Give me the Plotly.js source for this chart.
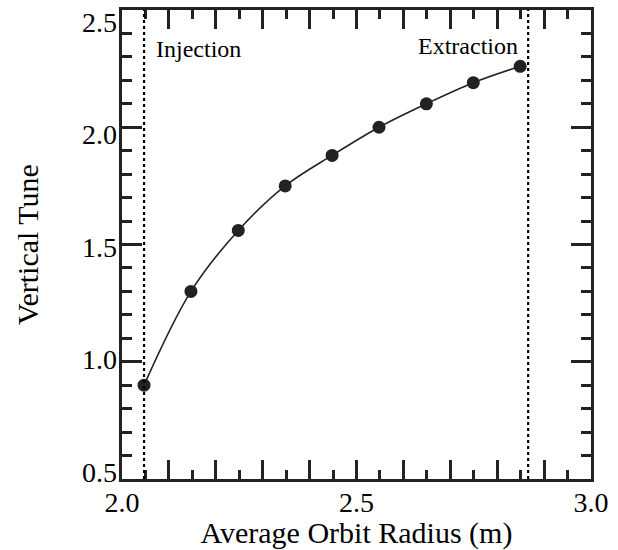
<!DOCTYPE html>
<html>
<head>
<meta charset="utf-8">
<script src="https://cdn.plot.ly/plotly-3.0.1.min.js"></script>
<style>html,body{margin:0;padding:0;background:#fff;}#chart{width:618px;height:550px;}</style>
</head>
<body>
<div id="chart"></div>
<script>
// Data
const radius = [2.047, 2.147, 2.248, 2.348, 2.448, 2.548, 2.649, 2.749, 2.849];
const verticalTune = [0.90, 1.30, 1.56, 1.75, 1.88, 2.00, 2.10, 2.19, 2.26];
const markerLabels = ['Injection', 'Extraction'];
const markerRadius = [2.047, 2.866];
const xTickVals = [2.0, 2.1, 2.2, 2.3, 2.4, 2.5, 2.6, 2.7, 2.8, 2.9, 3.0];
const xTickText = ['2.0', '', '', '', '', '2.5', '', '', '', '', '3.0'];
const yTickVals = [0.5, 1.0, 1.5, 2.0, 2.5];
const yTickText = ['0.5', '1.0', '1.5', '2.0', '2.5'];

const ink = '#222222';
const serif = "'Liberation Serif', 'Times New Roman', serif";

const traces = [{
  x: radius,
  y: verticalTune,
  type: 'scatter',
  mode: 'lines+markers',
  line: {color: ink, width: 1.6, shape: 'spline', smoothing: 1},
  marker: {color: ink, size: 13},
  showlegend: false
}, {
  // empty trace so the label axis (y2) is drawn
  x: [], y: [], yaxis: 'y2', type: 'scatter', mode: 'markers',
  showlegend: false, hoverinfo: 'skip'
}];

const shapes = markerRadius.map(r => ({
  type: 'line', xref: 'x', yref: 'paper',
  x0: r, x1: r, y0: 0, y1: 1,
  line: {color: '#000', width: 2.2, dash: 'dot'}
}));

const annotations = [
  {x: markerRadius[0], y: 2.335, xref: 'x', yref: 'y', text: markerLabels[0],
   showarrow: false, xanchor: 'left', xshift: 10, font: {family: serif, size: 24, color: '#000'}},
  {x: markerRadius[1], y: 2.345, xref: 'x', yref: 'y', text: markerLabels[1],
   showarrow: false, xanchor: 'right', xshift: -8, font: {family: serif, size: 24, color: '#000'}}
];

const layout = {
  width: 618, height: 550,
  margin: {l: 122, r: 27, t: 10, b: 71, autoexpand: false},
  paper_bgcolor: '#fff', plot_bgcolor: '#fff',
  font: {family: serif, color: '#000'},
  xaxis: {
    showgrid: false, zeroline: false,
    showline: true, linecolor: ink, linewidth: 3,
    mirror: 'ticks', ticks: 'inside', tickcolor: ink, tickwidth: 3,
    range: [2.0, 3.0],
    tickmode: 'array', tickvals: xTickVals, ticktext: xTickText,
    ticklen: 19,
    tickfont: {family: serif, size: 28, color: '#000'},
    ticklabelstandoff: -4,
    ticklabeloverflow: 'allow',
    automargin: true,
    minor: {tickmode: 'linear', tick0: 2.0, dtick: 0.05, ticks: 'inside', ticklen: 9, tickwidth: 3, tickcolor: ink, showgrid: false},
    title: {text: 'Average Orbit Radius (m)', font: {family: serif, size: 30, color: '#000'}, standoff: 0}
  },
  yaxis: {
    showgrid: false, zeroline: false,
    showline: true, linecolor: ink, linewidth: 3,
    mirror: 'ticks', ticks: 'inside', tickcolor: ink, tickwidth: 3,
    range: [0.5, 2.5],
    tickmode: 'array', tickvals: yTickVals,
    showticklabels: false,
    ticklen: 20,
    minor: {tickmode: 'linear', tick0: 0.5, dtick: 0.1, ticks: 'inside', ticklen: 10, tickwidth: 3, tickcolor: ink, showgrid: false}
  },
  // label axis: the reference prints its y labels on a slightly compressed scale
  yaxis2: {
    overlaying: 'y', anchor: 'x', side: 'left',
    range: [0.469, 2.553],
    showgrid: false, zeroline: false, showline: false, ticks: '',
    tickmode: 'array', tickvals: yTickVals, ticktext: yTickText,
    tickfont: {family: serif, size: 28, color: '#000'},
    ticklabelstandoff: 4,
    ticklabeloverflow: 'allow',
    automargin: true,
    title: {text: 'Vertical Tune', font: {family: serif, size: 30, color: '#000'}, standoff: 34}
  },
  shapes: shapes,
  annotations: annotations
};

Plotly.newPlot('chart', traces, layout, {displayModeBar: false, staticPlot: true});
</script>
</body>
</html>
